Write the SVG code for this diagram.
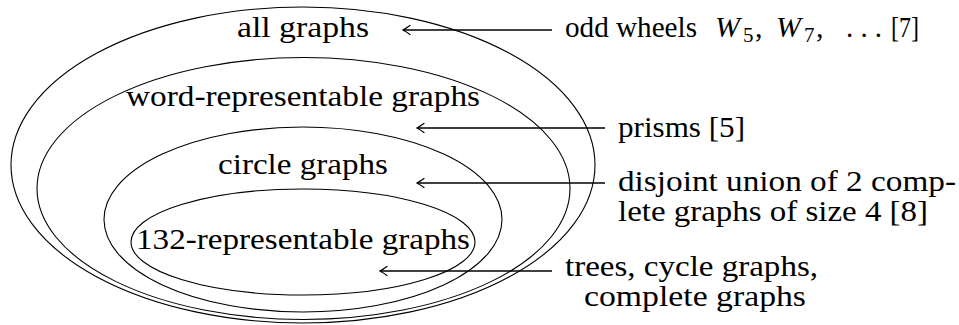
<svg xmlns="http://www.w3.org/2000/svg" width="959" height="325" viewBox="0 0 959 325" font-family="'Liberation Serif', 'Times New Roman', Times, serif">
<style>
  .set { fill: none; stroke: #000; stroke-width: 1.1; }
  .arr { fill: none; stroke: #000; stroke-width: 1.6; marker-end: url(#head); }
  .t { font-family: 'Liberation Serif', 'Times New Roman', Times, serif; font-size: 30px; fill: #000; }
  .it { font-style: italic; }
  .sub { font-size: 21px; }
</style>
<defs>
  <marker id="head" viewBox="-9 -6 11 12" refX="0" refY="0" markerWidth="11" markerHeight="12" markerUnits="userSpaceOnUse" orient="auto">
    <path d="M -7 -4.5 Q -2 -1 0 0 Q -2 1 -7 4.5" fill="none" stroke="#000" stroke-width="1.3" stroke-linecap="round"/>
  </marker>
</defs>
<rect width="959" height="325" fill="#fff"/>

<g id="all-graphs">
  <ellipse class="set" cx="303" cy="165" rx="292" ry="158"/>
  <text class="t" x="237" y="37" textLength="132" lengthAdjust="spacingAndGlyphs">all graphs</text>
</g>
<g id="word-representable">
  <ellipse class="set" cx="303.5" cy="188.5" rx="266.5" ry="131"/>
  <text class="t" x="126" y="106" textLength="354" lengthAdjust="spacingAndGlyphs">word-representable graphs</text>
</g>
<g id="circle-graphs">
  <ellipse class="set" cx="303" cy="219.5" rx="199" ry="92.5"/>
  <text class="t" x="218" y="174" textLength="170" lengthAdjust="spacingAndGlyphs">circle graphs</text>
</g>
<g id="132-representable">
  <ellipse class="set" cx="303" cy="242" rx="172" ry="53"/>
  <text class="t" x="136" y="249" textLength="334" lengthAdjust="spacingAndGlyphs">132-representable graphs</text>
</g>

<g id="odd-wheels">
  <text class="t" y="37"><tspan x="565" textLength="132" lengthAdjust="spacingAndGlyphs">odd wheels</tspan><tspan x="715" class="it">W</tspan><tspan x="743" class="sub" dy="5">5</tspan><tspan x="755" dy="-5">,</tspan><tspan x="776" class="it">W</tspan><tspan x="804" class="sub" dy="5">7</tspan><tspan x="816" dy="-5">,</tspan><tspan x="846" textLength="36" lengthAdjust="spacingAndGlyphs">. . .</tspan><tspan x="891" textLength="28" lengthAdjust="spacingAndGlyphs">[7]</tspan></text>
</g>
<g id="prisms">
  <text class="t" x="618" y="137" textLength="127" lengthAdjust="spacingAndGlyphs">prisms [5]</text>
</g>
<g id="disjoint-union">
  <text class="t" x="618" y="191" textLength="338" lengthAdjust="spacingAndGlyphs">disjoint union of 2 comp-</text>
  <text class="t" x="618" y="221" textLength="310" lengthAdjust="spacingAndGlyphs">lete graphs of size 4 [8]</text>
</g>
<g id="trees">
  <text class="t" x="565" y="276" textLength="253" lengthAdjust="spacingAndGlyphs">trees, cycle graphs,</text>
  <text class="t" x="584" y="306" textLength="222" lengthAdjust="spacingAndGlyphs">complete graphs</text>
</g>

<g id="connectors">
  <line class="arr" x1="552" y1="30" x2="403" y2="30"/>
  <line class="arr" x1="605" y1="128" x2="417" y2="128"/>
  <line class="arr" x1="605" y1="183" x2="417" y2="183"/>
  <line class="arr" x1="552" y1="271" x2="380" y2="271"/>
</g>
</svg>
